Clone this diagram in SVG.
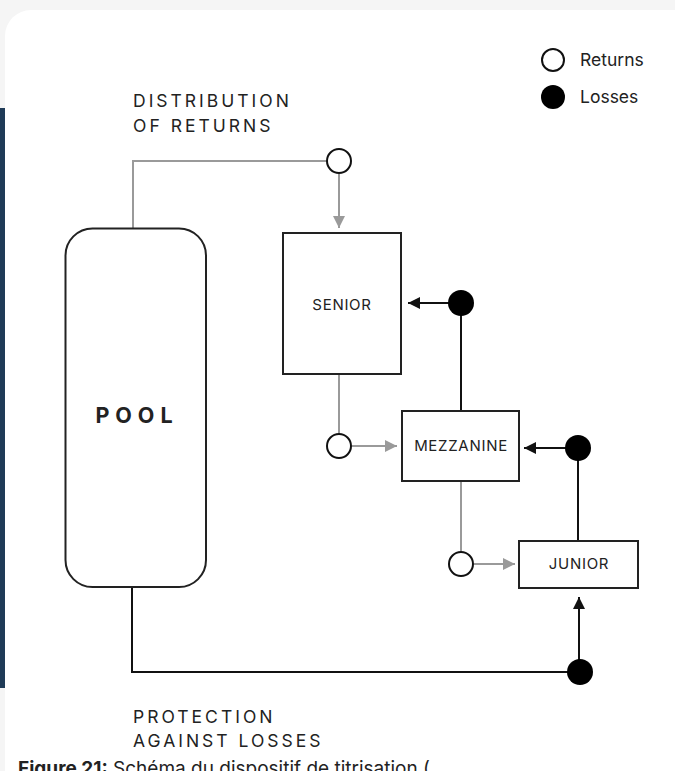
<svg xmlns="http://www.w3.org/2000/svg" width="675" height="771" viewBox="0 0 675 771">
  <defs>
    <style>
      .lbl { font-family: Inter, "Noto Sans", "Liberation Sans", sans-serif; fill: #222; }
      .head { font-size: 17.5px; letter-spacing: 3px; }
      .box { fill: #fff; stroke: #222; stroke-width: 2; }
      .box-t { font-size: 15px; letter-spacing: 0.7px; text-anchor: middle; }
      .gray { fill: none; stroke: #9a9a9a; stroke-width: 2; }
      .blk { fill: none; stroke: #111; stroke-width: 2; }
      .ret { fill: #fff; stroke: #111; stroke-width: 2; }
      .loss { fill: #000; }
    </style>
    <marker id="ag" viewBox="0 0 10 10" refX="10" refY="5" markerWidth="12" markerHeight="12" markerUnits="userSpaceOnUse" orient="auto">
      <path d="M0,0 L10,5 L0,10 z" fill="#9a9a9a"/>
    </marker>
    <marker id="ab" viewBox="0 0 10 10" refX="10" refY="5" markerWidth="12" markerHeight="12" markerUnits="userSpaceOnUse" orient="auto">
      <path d="M0,0 L10,5 L0,10 z" fill="#111"/>
    </marker>
  </defs>

  <!-- page background -->
  <rect x="0" y="0" width="675" height="771" fill="#f5f5f5"/>
  <rect x="5" y="10" width="700" height="800" rx="26" fill="#ffffff"/>
  <rect x="0" y="108" width="5" height="580" fill="#1f3b57"/>

  <!-- legend -->
  <g id="legend">
    <circle cx="553" cy="60" r="11" class="ret"/>
    <text x="580" y="66" class="lbl" font-size="17.5" fill="#333">Returns</text>
    <circle cx="553" cy="97" r="12" class="loss"/>
    <text x="580" y="103" class="lbl" font-size="17.5" fill="#333">Losses</text>
  </g>

  <g id="label-distribution">
    <text x="133" y="107" class="lbl head">DISTRIBUTION</text>
    <text x="133" y="132" class="lbl head">OF RETURNS</text>
  </g>
  <g id="label-protection">
    <text x="133" y="723" class="lbl head">PROTECTION</text>
    <text x="133" y="747" class="lbl head">AGAINST LOSSES</text>
  </g>

  <!-- connectors -->
  <g id="connectors">
    <path d="M133,228 V161 H327" class="gray"/>
    <path d="M339,174 V228" class="gray" marker-end="url(#ag)"/>
    <path d="M339,374 V433" class="gray"/>
    <path d="M352,446 H397" class="gray" marker-end="url(#ag)"/>
    <path d="M461,481 V551" class="gray"/>
    <path d="M474,564 H515" class="gray" marker-end="url(#ag)"/>

    <path d="M449,303 H408" class="blk" marker-end="url(#ab)"/>
    <path d="M461,303 V411" class="blk"/>
    <path d="M566,448 H524" class="blk" marker-end="url(#ab)"/>
    <path d="M578,448 V541" class="blk"/>
    <path d="M132,587 V672 H580" class="blk"/>
    <path d="M579,672 V597" class="blk" marker-end="url(#ab)"/>
  </g>

  <!-- junction circles -->
  <g id="junctions">
    <circle cx="339" cy="161" r="12" class="ret"/>
    <circle cx="339" cy="446" r="12" class="ret"/>
    <circle cx="461" cy="564" r="12" class="ret"/>
    <circle cx="461" cy="303" r="13" class="loss"/>
    <circle cx="578" cy="448" r="13" class="loss"/>
    <circle cx="580" cy="672" r="13" class="loss"/>
  </g>

  <g id="pool">
    <rect x="65.5" y="228.5" width="140.5" height="358.5" rx="27" class="box"/>
    <text x="137" y="423" class="lbl" font-size="21.5" font-weight="700" letter-spacing="6" text-anchor="middle">POOL</text>
  </g>
  <g id="senior">
    <rect x="283" y="233" width="118" height="141" class="box"/>
    <text x="342" y="310" class="lbl box-t">SENIOR</text>
  </g>
  <g id="mezzanine">
    <rect x="402" y="411" width="117" height="70" class="box"/>
    <text x="461" y="451" class="lbl box-t">MEZZANINE</text>
  </g>
  <g id="junior">
    <rect x="519" y="541" width="119" height="47" class="box"/>
    <text x="579" y="569" class="lbl box-t">JUNIOR</text>
  </g>

  <!-- cut-off caption -->
  <text x="18" y="775" class="lbl" font-size="19" fill="#222"><tspan font-weight="700">Figure 21:</tspan> Schéma du dispositif de titrisation (</text>
</svg>
